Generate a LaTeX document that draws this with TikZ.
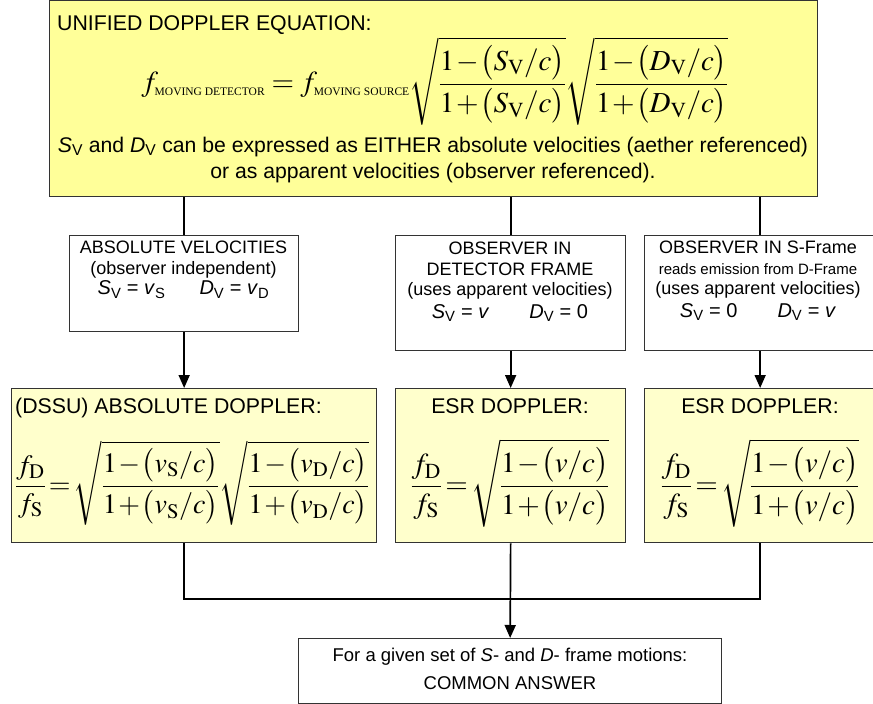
\documentclass[tikz,border=0pt]{standalone}
\usepackage{mathptmx}
\usepackage[no-math]{fontspec}
\setmainfont{Liberation Sans}
\newfontfamily\subserif{Liberation Serif}
\usetikzlibrary{arrows.meta}
\definecolor{topyellow}{HTML}{FFFF99}
\definecolor{paleyellow}{HTML}{FFFFCC}
\newcommand{\Sv}{\textit{S}\textsubscript{V}}
\newcommand{\Dv}{\textit{D}\textsubscript{V}}
\newcommand{\msub}[1]{\mbox{\fontsize{11.5}{12}\subserif #1}}
\newcommand{\tightmath}{\medmuskip=1mu\relax\thickmuskip=2mu\relax}
\newcommand{\toptight}{\medmuskip=1mu\relax}
\begin{document}
\begin{tikzpicture}[x=1pt,y=-1pt,
  box/.style={draw=black!80, line width=1.3pt, inner sep=0pt, anchor=north west},
  conn/.style={line width=1.7pt, black},
  arr/.style={conn, -{Triangle[length=13pt,width=11pt]}},
  titletxt/.style={inner sep=0pt, font=\fontsize{21.3}{24}\selectfont},
  bodytxt/.style={inner sep=0pt, align=center, font=\fontsize{18}{20.5}\selectfont},
  mathtxt/.style={inner sep=0pt, font=\fontsize{29}{32}\selectfont\tightmath}
]
\useasboundingbox (0,0) rectangle (873,704);
% boxes
\node[box, fill=topyellow, minimum width=768pt, minimum height=196pt] (top) at (49,0) {};
\node[box, fill=white, minimum width=229pt, minimum height=96pt] (b2) at (69,235) {};
\node[box, fill=white, minimum width=230pt, minimum height=115pt] (b3) at (395,235) {};
\node[box, fill=white, minimum width=231pt, minimum height=115pt] (b4) at (644,235) {};
\node[box, fill=paleyellow, minimum width=365pt, minimum height=154pt] (b5) at (11,388) {};
\node[box, fill=paleyellow, minimum width=230pt, minimum height=154pt] (b6) at (395,388) {};
\node[box, fill=paleyellow, minimum width=231pt, minimum height=154pt] (b7) at (644,388) {};
\node[box, fill=white, minimum width=423pt, minimum height=65pt] (b8) at (298,638) {};
% top box text
\node[titletxt, anchor=base west] (toptitle) at (57,30) {UNIFIED DOPPLER EQUATION:};
\node[mathtxt, font=\fontsize{29}{32}\selectfont\toptight] (topeq) at (435,81) {$\displaystyle f_{\msub{MOVING DETECTOR}} = f_{\msub{MOVING SOURCE}}
  \sqrt{\frac{1-\bigl(S_{\mathrm{V}}/c\bigr)}{1+\bigl(S_{\mathrm{V}}/c\bigr)}}
  \sqrt{\frac{1-\bigl(D_{\mathrm{V}}/c\bigr)}{1+\bigl(D_{\mathrm{V}}/c\bigr)}}$};
\node[bodytxt, font=\fontsize{21.2}{26}\selectfont] (topnote) at (433,160)
  {\Sv{} and \Dv{} can be expressed as EITHER absolute velocities (aether referenced)\\
   or as apparent velocities (observer referenced).};
% middle boxes text
\node[bodytxt] (b2txt) at (183.5,270) {ABSOLUTE VELOCITIES\\(observer independent)\\
  {\fontsize{20}{20}\selectfont\Sv{} = \textit{v}\textsubscript{S}\hspace{1.7em}\Dv{} = \textit{v}\textsubscript{D}}};
\node[bodytxt] (b3txt) at (510,282) {OBSERVER IN\\DETECTOR FRAME\\(uses apparent velocities)\\[2pt]
  {\fontsize{20}{20}\selectfont\Sv{} = \textit{v}\hspace{2em}\Dv{} = 0}};
\node[bodytxt] (b4txt) at (758,281) {OBSERVER IN S-Frame\\{\fontsize{15}{15}\selectfont reads emission from D-Frame}\\(uses apparent velocities)\\[2pt]
  {\fontsize{20}{20}\selectfont\Sv{} = 0\hspace{2em}\Dv{} = \textit{v}}};
% lower boxes text
\node[titletxt, anchor=base west] (b5title) at (15,413) {(DSSU) ABSOLUTE DOPPLER:};
\node[mathtxt, font=\fontsize{28}{32}\selectfont\tightmath, anchor=west] (b5eq) at (15,483) {$\displaystyle \frac{f_{\mathrm{D}}}{f_{\mathrm{S}}}=
  \sqrt{\frac{1-\bigl(v_{\mathrm{S}}/c\bigr)}{1+\bigl(v_{\mathrm{S}}/c\bigr)}}
  \sqrt{\frac{1-\bigl(v_{\mathrm{D}}/c\bigr)}{1+\bigl(v_{\mathrm{D}}/c\bigr)}}$};
\node[titletxt, anchor=base] (b6title) at (510,413) {ESR DOPPLER:};
\node[mathtxt] (b6eq) at (510,483) {$\displaystyle \frac{f_{\mathrm{D}}}{f_{\mathrm{S}}}=
  \sqrt{\frac{1-\bigl(v/c\bigr)}{1+\bigl(v/c\bigr)}}$};
\node[titletxt, anchor=base] (b7title) at (760,413) {ESR DOPPLER:};
\node[mathtxt] (b7eq) at (760,483) {$\displaystyle \frac{f_{\mathrm{D}}}{f_{\mathrm{S}}}=
  \sqrt{\frac{1-\bigl(v/c\bigr)}{1+\bigl(v/c\bigr)}}$};
\node[bodytxt, font=\fontsize{18.5}{28}\selectfont] (b8txt) at (510,669)
  {For a given set of \textit{S}- and \textit{D}- frame motions:\\COMMON ANSWER};
% connectors
\draw[conn] (top.south -| b2.north) -- (b2.north);
\draw[conn] (top.south -| b3.north) -- (b3.north);
\draw[conn] (top.south -| b4.north) -- (b4.north);
\draw[arr] (b2.south) -- (b5.north -| b2.south);
\draw[arr] (b3.south) -- (b6.north);
\draw[arr] (b4.south) -- (b7.north);
\coordinate (bus) at (b6.south |- 0,599);
\draw[conn] (b5.south -| b2.south) |- (bus);
\draw[conn] (b7.south) |- (bus);
\draw[arr] (b6.south) -- (b8.north);
\end{tikzpicture}
\end{document}
